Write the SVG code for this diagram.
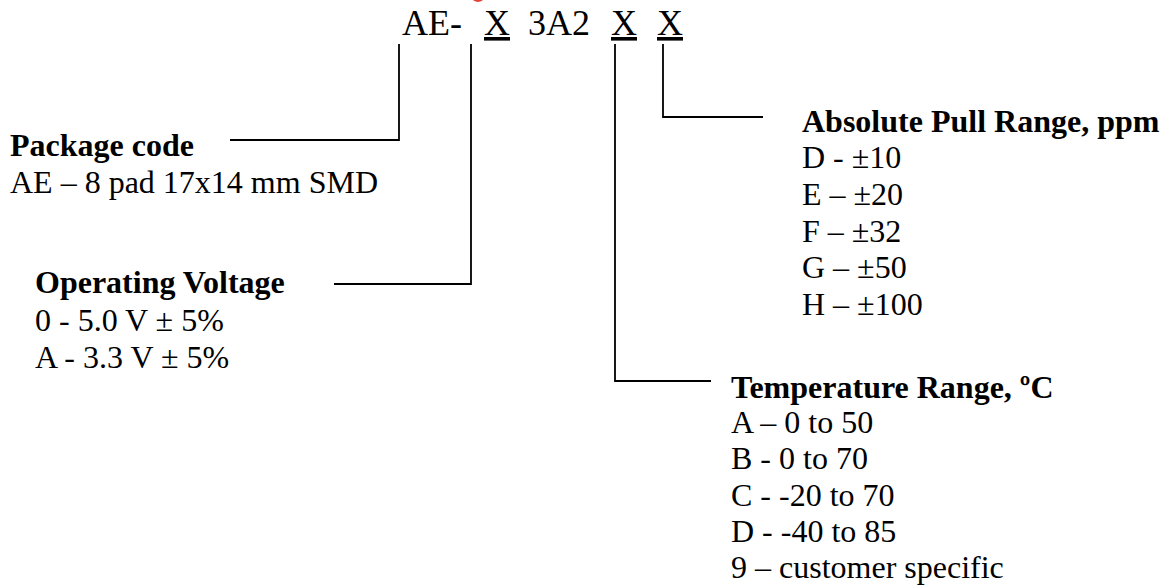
<svg xmlns="http://www.w3.org/2000/svg" width="1170" height="586" viewBox="0 0 1170 586">
<style>
text{font-family:"Liberation Serif","Times New Roman",serif;fill:#000}
.hd{font-size:36px}
.u{text-decoration:underline}
.t{font-size:32px;font-weight:bold}
.b{font-size:32px}
.c{fill:none;stroke:#000;stroke-width:1.8}
</style>
<rect width="1170" height="586" fill="#fff"/>
<ellipse cx="478" cy="-3" rx="6" ry="5" fill="#e8413a"/>
<g id="code">
<text class="hd" x="402" y="35">AE-</text>
<text class="hd u" x="484" y="35">X</text>
<text class="hd" x="528" y="35">3A2</text>
<text class="hd u" x="611" y="35">X</text>
<text class="hd u" x="657" y="35">X</text>
</g>
<g id="connectors">
<polyline class="c" points="399,44 399,140 230,140"/>
<polyline class="c" points="471,44 471,284 334,284"/>
<polyline class="c" points="615,44 615,381 711,381"/>
<polyline class="c" points="663,44 663,117 763,117"/>
</g>
<g id="package">
<text class="t" x="10" y="156">Package code</text>
<text class="b" x="10" y="193">AE – 8 pad 17x14 mm SMD</text>
</g>
<g id="voltage">
<text class="t" x="35" y="293">Operating Voltage</text>
<text class="b" x="35" y="331">0 - 5.0 V ± 5%</text>
<text class="b" x="35" y="368">A - 3.3 V ± 5%</text>
</g>
<g id="pull">
<text class="t" x="802" y="132">Absolute Pull Range, ppm</text>
<text class="b" x="802" y="168">D - ±10</text>
<text class="b" x="802" y="205">E – ±20</text>
<text class="b" x="802" y="242">F – ±32</text>
<text class="b" x="802" y="278">G – ±50</text>
<text class="b" x="802" y="315">H – ±100</text>
</g>
<g id="temperature">
<text class="t" x="731" y="398">Temperature Range, ºC</text>
<text class="b" x="731" y="433">A – 0 to 50</text>
<text class="b" x="731" y="469">B - 0 to 70</text>
<text class="b" x="731" y="506">C - -20 to 70</text>
<text class="b" x="731" y="542">D - -40 to 85</text>
<text class="b" x="731" y="578">9 – customer specific</text>
</g>
</svg>
